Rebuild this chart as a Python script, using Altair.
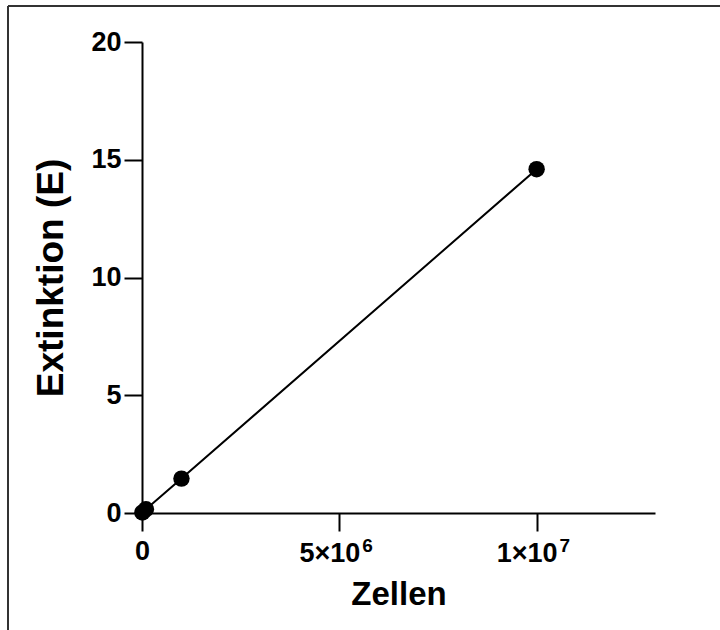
import altair as alt
import pandas as pd

# Measured cell counts and extinction values
zellen = [1e4, 1e5, 1e6, 1e7]
extinktion = [0.02, 0.16, 1.46, 14.6]

x_ticks = [0, 5e6, 1e7]
y_ticks = [0, 5, 10, 15, 20]

# Scientific-notation tick labels drawn as base + superscript exponent
sci_values = [5e6, 1e7]
sci_base = ["5×10", "1×10"]
sci_exp = ["6", "7"]

df = pd.DataFrame({"Zellen": zellen, "Extinktion": extinktion})
sci_df = pd.DataFrame({"Zellen": sci_values, "base": sci_base, "exp": sci_exp})

FONT = "Liberation Sans"
X_SCALE = alt.Scale(domain=[0, 1.3e7], nice=False, zero=True)

x_enc = alt.X(
    "Zellen:Q",
    title="Zellen",
    scale=X_SCALE,
    axis=alt.Axis(
        values=x_ticks,
        labelExpr="datum.value == 0 ? '0' : ''",
        grid=False,
        labelFlush=False,
    ),
)
y_enc = alt.Y(
    "Extinktion:Q",
    title="Extinktion (E)",
    scale=alt.Scale(domain=[0, 20], nice=False),
    axis=alt.Axis(values=y_ticks, grid=False, labelFlush=False),
)

base = alt.Chart(df).encode(x=x_enc, y=y_enc)

line = base.mark_line(color="black", strokeWidth=2)
points = base.mark_circle(color="black", opacity=1, size=270)

# x tick labels in the form a×10^n
sci_main = alt.Chart(sci_df).mark_text(
    font=FONT, fontSize=27, fontWeight="bold", color="black",
    align="right", baseline="alphabetic", dx=21,
).encode(x=alt.X("Zellen:Q", scale=X_SCALE), y=alt.value(520), text="base:N")
sci_sup = alt.Chart(sci_df).mark_text(
    font=FONT, fontSize=19, fontWeight="bold", color="black",
    align="left", baseline="alphabetic", dx=23,
).encode(x=alt.X("Zellen:Q", scale=X_SCALE), y=alt.value(510), text="exp:N")

# Outer frame (top and left edges of the figure box)
frame_data = alt.Data(values=[{}])
frame_top = alt.Chart(frame_data).mark_rule(color="#333333", strokeWidth=2).encode(
    x=alt.value(-134), x2=alt.value(580), y=alt.value(-36)
)
frame_left = alt.Chart(frame_data).mark_rule(color="#333333", strokeWidth=2).encode(
    x=alt.value(-134), y=alt.value(-36), y2=alt.value(590)
)

chart = (
    alt.layer(frame_top, frame_left, line, points, sci_main, sci_sup)
    .properties(
        width=513,
        height=471,
        autosize=alt.AutoSizeParams(type="none"),
        padding={"left": 142, "top": 42, "right": 65, "bottom": 117},
        background="white",
    )
    .configure_view(stroke=None)
    .configure_axis(
        domainColor="black",
        domainWidth=2,
        tickColor="black",
        tickWidth=2,
        tickSize=18,
        labelFont=FONT,
        labelFontSize=27,
        labelFontWeight="bold",
        labelColor="black",
        labelPadding=3,
        titleFont=FONT,
        titleFontWeight="bold",
        titleColor="black",
    )
    .configure_axisX(titlePadding=14, labelPadding=7, titleFontSize=33)
    .configure_axisY(titlePadding=20, titleFontSize=37)
)

chart.save("out.html", embed_options={"renderer": "svg", "actions": False})
